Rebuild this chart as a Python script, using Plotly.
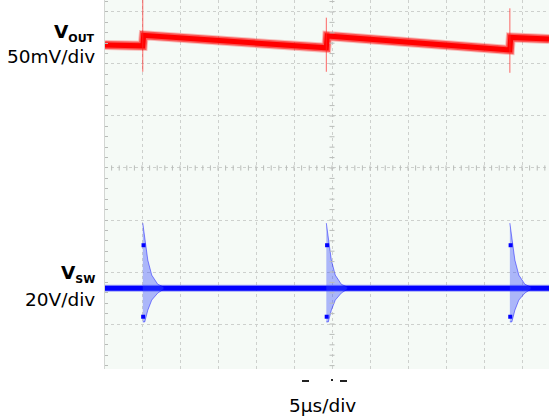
import plotly.graph_objects as go

# ---- screen geometry (scope graticule) ----
T_DIV_US = 5.0                     # 5 µs/div
X_RANGE_US = [-29.87, 28.55]       # visible part of the time axis
Y_RANGE_DIV = [-3.865, 3.23]       # visible part of the vertical graticule

# ---- switching events (µs) ----
sw_times_us = [-24.9, -0.75, 23.4]

# ---- V_OUT ripple, AC coupled, 50 mV/div ----
VOUT_MV_PER_DIV = 50.0
VOUT_POS_DIV = 2.41
vout_start_mV = -2.2
vout_before_mV = [-3.1, -5.0, -7.0]
vout_after_mV = [7.0, 6.5, 5.0]
vout_end_mV = 3.6
vout_spike_hi_mV = [41.0, 24.0, 33.0]
vout_spike_lo_mV = [-28.0, -28.0, -29.0]

# ---- V_SW, 20 V/div ----
VSW_V_PER_DIV = 20.0
VSW_POS_DIV = -2.31
vsw_level_V = 0.0
ring_dt_us = [0.0, 0.26, 0.66, 1.18, 1.97, 2.76]
ring_hi_V = [25.0, 18.5, 10.8, 5.0, 1.5, 0.4]
ring_lo_V = [-13.0, -13.0, -8.5, -4.6, -1.9, -0.4]
ring_dot_hi_V = 16.5
ring_dot_lo_V = -11.0


def vout_div(mv):
    return VOUT_POS_DIV + mv / VOUT_MV_PER_DIV


def vsw_div(v):
    return VSW_POS_DIV + v / VSW_V_PER_DIV


fig = go.Figure()

# V_OUT trace: sawtooth ripple with a step at each switching event
vx = [X_RANGE_US[0]]
vy = [vout_div(vout_start_mV)]
for t, lo, hi in zip(sw_times_us, vout_before_mV, vout_after_mV):
    vx += [t, t + 0.12]
    vy += [vout_div(lo), vout_div(hi)]
vx.append(X_RANGE_US[1])
vy.append(vout_div(vout_end_mV))

# layered strokes give the noisy band soft edges
for color, width in [("rgba(255,0,0,0.25)", 10),
                     ("rgba(255,0,0,0.55)", 8),
                     ("#ff0000", 5)]:
    fig.add_trace(go.Scatter(x=vx, y=vy, mode="lines",
                             line=dict(color=color, width=width),
                             hoverinfo="skip"))

# V_OUT switching spikes
sx, sy = [], []
for t, hi, lo in zip(sw_times_us, vout_spike_hi_mV, vout_spike_lo_mV):
    sx += [t, t, None]
    sy += [vout_div(hi), vout_div(lo), None]
fig.add_trace(go.Scatter(x=sx, y=sy, mode="lines",
                         line=dict(color="rgba(255,40,40,0.7)", width=1),
                         hoverinfo="skip"))

# V_SW baseline
fig.add_trace(go.Scatter(x=X_RANGE_US, y=[vsw_div(vsw_level_V)] * 2, mode="lines",
                         line=dict(color="rgba(0,0,255,0.35)", width=7), hoverinfo="skip"))
fig.add_trace(go.Scatter(x=X_RANGE_US, y=[vsw_div(vsw_level_V)] * 2, mode="lines",
                         line=dict(color="#0000ff", width=5), hoverinfo="skip"))

# V_SW ringing after each event
for t in sw_times_us:
    px = [t + d for d in ring_dt_us] + [t + d for d in reversed(ring_dt_us)]
    py = [vsw_div(v) for v in ring_hi_V] + [vsw_div(v) for v in reversed(ring_lo_V)]
    fig.add_trace(go.Scatter(x=px, y=py, mode="lines", fill="toself",
                             fillcolor="rgba(60,80,255,0.4)",
                             line=dict(color="rgba(0,0,255,0.45)", width=1),
                             hoverinfo="skip"))
    fig.add_trace(go.Scatter(x=[t + 0.1, t + 0.05],
                             y=[vsw_div(ring_dot_hi_V), vsw_div(ring_dot_lo_V)],
                             mode="markers",
                             marker=dict(symbol="square", size=4, color="#0000ff"),
                             hoverinfo="skip"))

# graticule centre-line tick marks
TICK_COLOR = "#b9bcb9"
shapes = []
x_minor = T_DIV_US / 5
k0 = int(X_RANGE_US[0] / x_minor)
k1 = int(X_RANGE_US[1] / x_minor)
for k in range(k0, k1 + 1):
    x = k * x_minor
    shapes.append(dict(type="line", xref="x", yref="y", x0=x, x1=x, y0=-0.05, y1=0.05,
                       line=dict(color=TICK_COLOR, width=1)))
for k in range(int(Y_RANGE_DIV[0] / 0.2), int(Y_RANGE_DIV[1] / 0.2) + 1):
    y = k * 0.2
    shapes.append(dict(type="line", xref="x", yref="y", x0=-0.33, x1=0.33, y0=y, y1=y,
                       line=dict(color=TICK_COLOR, width=1)))

# small clipped marks under the graticule
for x0, x1, y in [(302, 309, 381), (331, 333, 380), (340, 347, 381)]:
    shapes.append(dict(type="line", xref="paper", yref="paper",
                       x0=(x0 - 105) / 444, x1=(x1 - 105) / 444,
                       y0=(369 - y) / 369, y1=(369 - y) / 369,
                       line=dict(color="#222222", width=2)))

FONT = dict(family="DejaVu Sans", size=18.5, color="#000000")


def label(text, px, py, anchor="right"):
    return dict(text=text, xref="paper", yref="paper",
                x=(px - 105) / 444, y=(369 - py) / 369,
                xanchor=anchor, yanchor="middle", showarrow=False, font=FONT)


annotations = [
    label("<b>V<sub><span style='font-size:11px'>OUT</span></sub></b>", 97, 33),
    label("50mV/div", 97, 57),
    label("<b>V<sub><span style='font-size:11px'>SW</span></sub></b>", 97, 274),
    label("20V/div", 97, 299),
    label("5µs/div", 322, 405, anchor="center"),
]

fig.update_layout(
    width=549, height=418,
    margin=dict(l=105, r=0, t=0, b=49),
    paper_bgcolor="#ffffff",
    plot_bgcolor="#f5faf6",
    showlegend=False,
    shapes=shapes,
    annotations=annotations,
    xaxis=dict(range=X_RANGE_US, dtick=T_DIV_US, tick0=0, showgrid=True,
               gridcolor="#cdd0cd", griddash="dot", gridwidth=1,
               zeroline=False, showticklabels=False, ticks="", showline=False,
               fixedrange=True),
    yaxis=dict(range=Y_RANGE_DIV, dtick=1, tick0=0, showgrid=True,
               gridcolor="#cdd0cd", griddash="dot", gridwidth=1,
               zeroline=False, showticklabels=False,
               showline=True, linecolor="#d3d6d3", linewidth=1,
               ticks="inside", ticklen=3, tickcolor=TICK_COLOR,
               minor=dict(dtick=0.2, ticks="inside", ticklen=3, tickcolor=TICK_COLOR),
               fixedrange=True),
)

fig.write_html("out.html")
